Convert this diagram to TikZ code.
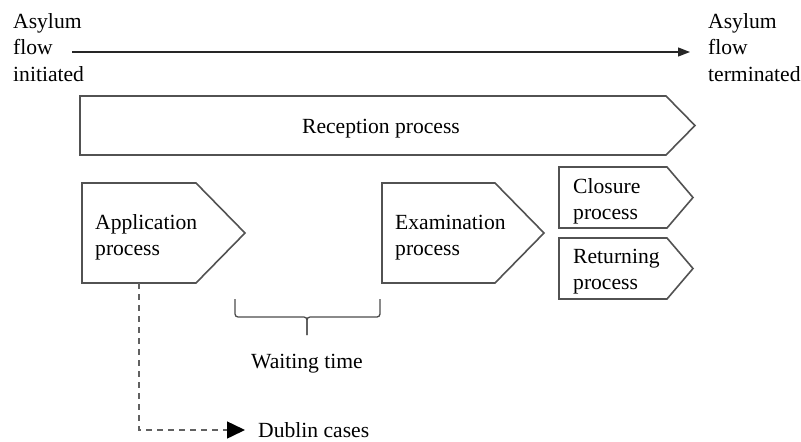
\documentclass[tikz,border=0pt]{standalone}
\usepackage{fontspec}
\setmainfont{Liberation Serif}
\usetikzlibrary{arrows.meta}

\tikzset{
  procbox/.style={draw=black!68,line width=1.6pt,line join=miter,fill=white},
  lbl/.style={font=\fontsize{21.6}{26.5}\selectfont,inner sep=0pt,align=left,text=black},
  flowline/.style={black!85,line width=1.3pt,-{Triangle[length=12pt,width=9pt]}},
  dublinline/.style={black!62,line width=1.5pt,dash pattern=on 6pt off 5pt,-{Triangle[length=18pt,width=17pt,color=black,fill=black]}}
}

\begin{document}
\begin{tikzpicture}[x=1pt,y=-1pt]
\useasboundingbox (0,0) rectangle (801,442);

% asylum flow (base = last line)
\node[lbl,anchor=base west] (initiated) at (13,81) {Asylum\\flow\\initiated};
\node[lbl,anchor=base west] (terminated) at (708,81) {Asylum\\flow\\terminated};
\coordinate (flowstart) at (72,52);
\coordinate (flowend) at (690,52);
\draw[flowline] (flowstart) -- (flowend);

% reception process
\draw[procbox] (80,96) -- (666,96) -- (695,125.5) -- (666,155) -- (80,155) -- cycle;
\node[lbl,anchor=base] (reception) at (381,133) {Reception process};

% application and examination
\foreach \xl/\xr/\xt in {82/196/245,382/495/544}
  \draw[procbox] (\xl,183) -- (\xr,183) -- (\xt,233) -- (\xr,283) -- (\xl,283) -- cycle;
\node[lbl,anchor=base west] (application) at (95,255.5) {Application\\process};
\node[lbl,anchor=base west] (examination) at (395,255.5) {Examination\\process};

% closure and returning
\foreach \yt/\yb in {167/228,238/299}
  \draw[procbox] (559,\yt) -- (667,\yt) -- (693,{(\yt+\yb)/2}) -- (667,\yb) -- (559,\yb) -- cycle;
\node[lbl,anchor=base west] (closure) at (573,219.5) {Closure\\process};
\node[lbl,anchor=base west] (returning) at (573,289.5) {Returning\\process};

% waiting time
\coordinate (waittip) at (307,335);
\draw[black!70,line width=1.3pt,rounded corners=3pt] (235,299) -- (235,317) -- (307,317) -- (waittip);
\draw[black!70,line width=1.3pt,rounded corners=3pt] (380,299) -- (380,317) -- (307,317) -- (waittip);
\node[lbl,anchor=base] (waiting) at (307,368) {Waiting time};

% dublin cases
\coordinate (appbottom) at (139,283);
\node[lbl,anchor=west] (dublin) at (258,430) {Dublin cases};
\draw[dublinline] (appbottom) |- ([xshift=-13pt]dublin.west);

\end{tikzpicture}
\end{document}
